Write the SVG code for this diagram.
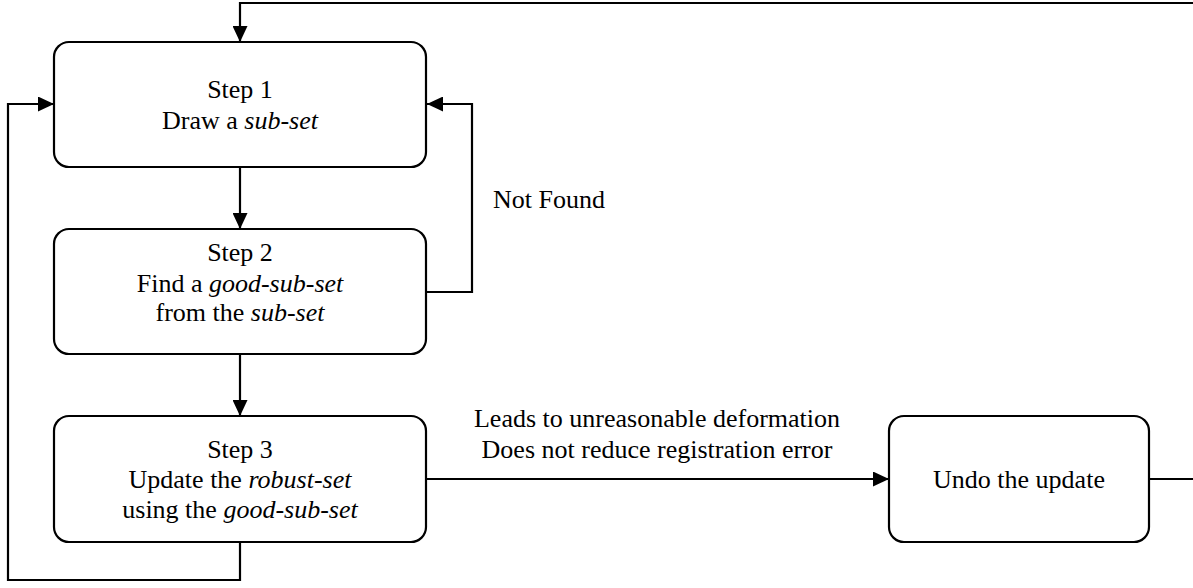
<svg xmlns="http://www.w3.org/2000/svg" width="1193" height="588" viewBox="0 0 1193 588">
  <style>
    .box { fill: #ffffff; stroke: #000000; stroke-width: 2.2; }
    .edge { fill: none; stroke: #000000; stroke-width: 2.2; }
    text { font-family: "Liberation Serif", "Times New Roman", serif; font-size: 26px; fill: #000000; }
    .c { text-anchor: middle; }
  </style>
  <defs>
    <marker id="arrow" markerUnits="userSpaceOnUse" markerWidth="16" markerHeight="15" refX="16" refY="7.5" orient="auto">
      <path d="M0,0 L16,7.5 L0,15 Z" fill="#000000"/>
    </marker>
  </defs>
  <rect width="1193" height="588" fill="#ffffff"/>

  <g id="connectors">
    <!-- feedback from the undo step back to step 1 -->
    <polyline class="edge" points="1193,3 240,3 240,42" marker-end="url(#arrow)"/>
    <line class="edge" x1="240" y1="167" x2="240" y2="229" marker-end="url(#arrow)"/>
    <line class="edge" x1="240" y1="354" x2="240" y2="416" marker-end="url(#arrow)"/>
    <!-- Not Found loop -->
    <polyline class="edge" points="427,292 472,292 472,104 427,104" marker-end="url(#arrow)"/>
    <!-- iteration loop from step 3 -->
    <polyline class="edge" points="240,542 240,580 8,580 8,104 54,104" marker-end="url(#arrow)"/>
    <line class="edge" x1="427" y1="479" x2="889" y2="479" marker-end="url(#arrow)"/>
    <line class="edge" x1="1149" y1="479" x2="1193" y2="479"/>
    <text x="493" y="208">Not Found</text>
    <text class="c" x="657" y="427">Leads to unreasonable deformation</text>
    <text class="c" x="657" y="458">Does not reduce registration error</text>
  </g>

  <g id="step1">
    <rect class="box" x="54" y="42" width="372" height="125" rx="15" ry="15"/>
    <text class="c" x="240" y="98">Step 1</text>
    <text class="c" x="240" y="129">Draw a <tspan font-style="italic">sub-set</tspan></text>
  </g>

  <g id="step2">
    <rect class="box" x="54" y="229" width="372" height="125" rx="15" ry="15"/>
    <text class="c" x="240" y="261">Step 2</text>
    <text class="c" x="240" y="292">Find a <tspan font-style="italic">good-sub-set</tspan></text>
    <text class="c" x="240" y="321">from the <tspan font-style="italic">sub-set</tspan></text>
  </g>

  <g id="step3">
    <rect class="box" x="54" y="416" width="372" height="126" rx="15" ry="15"/>
    <text class="c" x="240" y="458">Step 3</text>
    <text class="c" x="240" y="488">Update the <tspan font-style="italic">robust-set</tspan></text>
    <text class="c" x="240" y="518">using the <tspan font-style="italic">good-sub-set</tspan></text>
  </g>

  <g id="undo">
    <rect class="box" x="889" y="416" width="260" height="126" rx="15" ry="15"/>
    <text class="c" x="1019" y="488">Undo the update</text>
  </g>
</svg>
